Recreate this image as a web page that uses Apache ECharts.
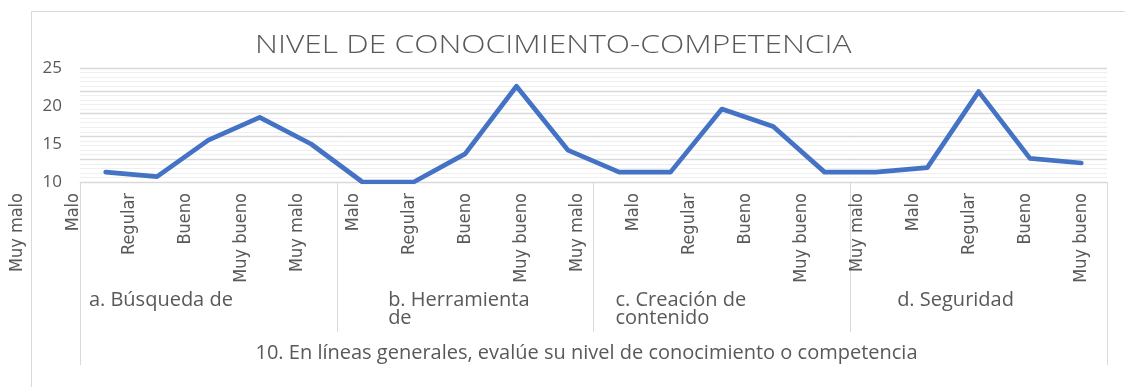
<!DOCTYPE html>
<html>
<head>
<meta charset="utf-8">
<script src="https://cdn.jsdelivr.net/npm/echarts@6/dist/echarts.min.js"></script>
<style>
  html, body { margin: 0; padding: 0; background: #fff; }
  #chart { width: 1125px; height: 387px; }
</style>
</head>
<body>
<div id="chart"></div>
<script>
// Rating scale repeated for each competence area
const ratings = [
  'Muy malo', 'Malo', 'Regular', 'Bueno', 'Muy bueno',
  'Muy malo', 'Malo', 'Regular', 'Bueno', 'Muy bueno',
  'Muy malo', 'Malo', 'Regular', 'Bueno', 'Muy bueno',
  'Muy malo', 'Malo', 'Regular', 'Bueno', 'Muy bueno'
];
// Competence areas (second level of the category axis)
const areas = ['a. Búsqueda de', 'b. Herramienta\nde', 'c. Creación de\ncontenido', 'd. Seguridad'];
// Question (third level of the category axis)
const question = ['10. En líneas generales, evalúe su nivel de conocimiento o competencia'];
// Responses per rating
const values = [11.3, 10.7, 15.5, 18.5, 15.0,
                10.0, 10.0, 13.7, 22.6, 14.2,
                11.3, 11.3, 19.6, 17.3, 11.3,
                11.3, 11.9, 21.9, 13.1, 12.5];
const yTicks = { min: 10, max: 25, step: 5 };
const chartTitle = 'NIVEL DE CONOCIMIENTO-COMPETENCIA';

const GREY = '#595959';
const LINE = '#d9d9d9';
const BODY_FONT = '"Open Sans", Lato, sans-serif';
const NARROW_FONT = '"Liberation Sans Narrow", "Arial Narrow", "DejaVu Sans Condensed", sans-serif';

// widths of the boxes that hold each area label (text left-aligned in its box)
const areaBoxWidths = [239, 154, 213, 163];
const areaRich = {};
areaBoxWidths.forEach((w, i) => {
  areaRich['g' + i] = { width: w, align: 'left', fontSize: 20, lineHeight: 18.5, color: GREY, fontFamily: BODY_FONT };
});

const chart = echarts.init(document.getElementById('chart'), null, { renderer: 'canvas' });

chart.setOption({
  backgroundColor: '#fff',
  animation: false,
  graphic: [
    {
      // outer chart frame
      type: 'rect',
      z: -1,
      shape: { x: 31.5, y: 11.5, width: 1200, height: 500 },
      style: { fill: 'none', stroke: LINE, lineWidth: 1 }
    },
    {
      // chart title, set in a light face and widened
      type: 'text',
      x: 255,
      y: 46,
      scaleX: 1.27,
      style: {
        text: chartTitle,
        fill: GREY,
        font: '300 25px "Open Sans", Lato, sans-serif',
        textAlign: 'left',
        textVerticalAlign: 'middle'
      }
    }
  ],
  grid: [
    { left: 80, right: 18, top: 68, bottom: 205 },
    // layout frame for the rating labels
    { left: 17, right: 44, top: 68, bottom: 205 }
  ],
  xAxis: [
    {
      type: 'category',
      gridIndex: 0,
      data: ratings,
      boundaryGap: true,
      axisLine: { show: true, lineStyle: { color: LINE, width: 1 } },
      axisTick: { show: false },
      axisLabel: { show: false },
      splitLine: { show: false }
    },
    {
      type: 'category',
      gridIndex: 0,
      position: 'bottom',
      data: areas,
      boundaryGap: true,
      axisLine: { show: false },
      axisTick: { show: true, length: 150, lineStyle: { color: LINE, width: 1 } },
      axisLabel: {
        interval: 0,
        margin: 109,
        formatter: (val, idx) => val.split('\n').map(s => '{g' + idx + '|' + s + '}').join('\n'),
        rich: areaRich
      }
    },
    {
      type: 'category',
      gridIndex: 0,
      position: 'bottom',
      data: question,
      boundaryGap: true,
      axisLine: { show: false },
      axisTick: { show: true, length: 183, lineStyle: { color: LINE, width: 1 } },
      axisLabel: {
        interval: 0,
        margin: 161,
        formatter: v => '{q|' + v + '}',
        rich: { q: { fontSize: 20, color: GREY, fontFamily: BODY_FONT, padding: [0, 14, 0, 0] } }
      }
    },
    {
      type: 'category',
      gridIndex: 1,
      data: ratings,
      boundaryGap: false,
      axisLine: { show: false },
      axisTick: { show: false },
      axisLabel: {
        interval: 0,
        rotate: 90,
        margin: 11,
        color: GREY,
        fontSize: 18,
        fontFamily: NARROW_FONT,
        showMinLabel: true,
        showMaxLabel: true
      }
    }
  ],
  yAxis: [
    {
      type: 'value',
      gridIndex: 0,
      min: yTicks.min,
      max: yTicks.max,
      interval: yTicks.step,
      axisLine: { show: false },
      axisTick: { show: false },
      splitLine: { show: false },
      axisLabel: { margin: 18, color: GREY, fontSize: 17, fontFamily: BODY_FONT }
    },
    {
      // gridline scale: major lines every 3 units, five minor divisions each
      type: 'value',
      gridIndex: 0,
      position: 'left',
      min: 0,
      max: 15,
      interval: 3,
      axisLine: { show: false },
      axisTick: { show: false },
      axisLabel: { show: false },
      splitLine: { show: true, lineStyle: { color: LINE, width: 1.3 } },
      minorTick: { show: false, splitNumber: 5 },
      minorSplitLine: { show: true, lineStyle: { color: '#efefef', width: 1 } }
    },
    {
      type: 'value',
      gridIndex: 1,
      show: false,
      min: 0,
      max: 1
    }
  ],
  series: [{
    type: 'line',
    xAxisIndex: 0,
    yAxisIndex: 0,
    data: values,
    showSymbol: false,
    symbol: 'none',
    lineStyle: { color: '#4472C4', width: 4.7, join: 'round', cap: 'round' },
    itemStyle: { color: '#4472C4' },
    z: 5
  }]
});
</script>
</body>
</html>
